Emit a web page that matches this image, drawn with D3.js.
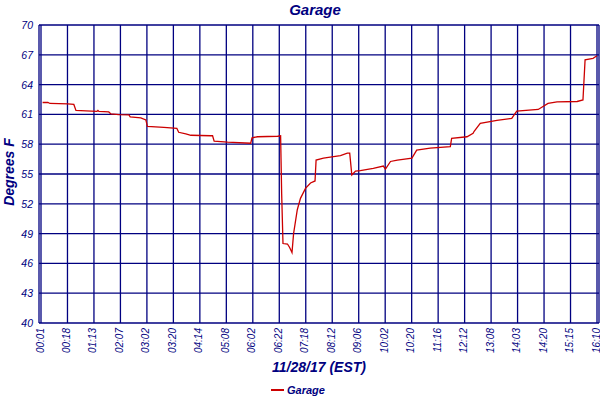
<!DOCTYPE html>
<html>
<head>
<meta charset="utf-8">
<script src="https://cdn.jsdelivr.net/npm/d3@7"></script>
<style>
  body { margin: 0; background: #fff; }
  svg { display: block; font-family: 'Liberation Sans', Arial, sans-serif; }
</style>
</head>
<body>
<div id="chart"></div>
<script>
// tick labels along the bottom (irregular time stamps, evenly spaced)
const timeLabels = ['00:01', '00:18', '01:13', '02:07', '03:02', '03:20', '04:14', '05:08',
  '06:02', '06:22', '07:18', '08:12', '09:06', '10:02', '10:20', '11:16', '12:12',
  '13:08', '14:03', '14:20', '15:15', '16:10'];
const tempTicks = [40, 43, 46, 49, 52, 55, 58, 61, 64, 67, 70];

// position in tick units (0 = first label) and temperature
const pos = [0.06, 0.26, 0.34, 1.01, 1.24, 1.32, 1.70, 2.11, 2.15, 2.19, 2.56, 2.64, 2.94,
  3.32, 3.37, 3.77, 3.96, 4.02, 4.64, 5.13, 5.20, 5.47, 5.66, 6.41, 6.48, 6.54, 7.05,
  7.92, 7.97, 8.18, 8.94, 9.05, 9.09, 9.14, 9.31, 9.39, 9.48, 9.54, 9.68, 9.80, 9.99,
  10.18, 10.35, 10.39, 10.67, 11.05, 11.31, 11.57, 11.66, 11.74, 11.88, 12.06, 12.55,
  12.93, 13.01, 13.20, 13.46, 14.01, 14.19, 14.70, 15.46, 15.51, 16.09, 16.32, 16.36,
  16.59, 17.22, 17.78, 17.97, 18.78, 19.15, 19.49, 20.25, 20.47, 20.55, 20.85, 21.0];
const garage = [62.2, 62.2, 62.1, 62.05, 62.0, 61.4, 61.35, 61.3, 61.4, 61.3, 61.25, 61.05,
  60.97, 60.95, 60.75, 60.65, 60.45, 59.8, 59.7, 59.6, 59.2, 59.05, 58.9, 58.85, 58.85,
  58.3, 58.2, 58.1, 58.65, 58.75, 58.8, 58.85, 53.0, 48.0, 47.95, 47.6, 47.1, 49.0, 51.4,
  52.55, 53.55, 54.1, 54.3, 56.4, 56.6, 56.75, 56.85, 57.1, 57.1, 54.9, 55.3, 55.35,
  55.57, 55.8, 55.5, 56.26, 56.4, 56.6, 57.4, 57.6, 57.75, 58.6, 58.75, 59.1, 59.3, 60.1,
  60.4, 60.6, 61.34, 61.5, 62.1, 62.27, 62.3, 62.45, 66.5, 66.65, 66.9];

const navy = '#000080';
const width = 600, height = 400;
const plot = { left: 41, right: 597, top: 25, bottom: 323 };

const svg = d3.select('#chart').append('svg')
  .attr('width', width).attr('height', height);

const x = d3.scaleLinear().domain([0, timeLabels.length - 1]).range([plot.left, plot.right]);
const y = d3.scaleLinear().domain([40, 70]).range([plot.bottom, plot.top]);

// grid
const grid = svg.append('g').attr('stroke', navy).attr('stroke-width', 1.3);
grid.selectAll('line.h').data(tempTicks).join('line')
  .attr('class', 'h')
  .attr('x1', plot.left - 2).attr('x2', plot.right + 2)
  .attr('y1', d => y(d)).attr('y2', d => y(d));
grid.selectAll('line.v').data(timeLabels).join('line')
  .attr('class', 'v')
  .attr('x1', (d, i) => x(i)).attr('x2', (d, i) => x(i))
  .attr('y1', plot.top).attr('y2', plot.bottom);
// frame edges
grid.append('line').attr('x1', plot.left - 2).attr('x2', plot.left - 2)
  .attr('y1', plot.top).attr('y2', plot.bottom);
grid.append('line').attr('x1', plot.right + 2).attr('x2', plot.right + 2)
  .attr('y1', plot.top).attr('y2', plot.bottom);

// y labels
svg.append('g').selectAll('text').data(tempTicks).join('text')
  .attr('x', 33).attr('y', d => y(d) + 4)
  .attr('text-anchor', 'end')
  .attr('font-size', 10.5).attr('font-style', 'italic')
  .attr('fill', navy)
  .text(d => d);

// x labels, rotated
svg.append('g').selectAll('text').data(timeLabels).join('text')
  .attr('transform', (d, i) => `translate(${x(i) + 2.5},328) rotate(-90)`)
  .attr('text-anchor', 'end')
  .attr('font-size', 10).attr('font-style', 'italic')
  .attr('fill', navy)
  .text(d => d);

// titles
svg.append('text')
  .attr('x', 315).attr('y', 15)
  .attr('text-anchor', 'middle')
  .attr('font-size', 15).attr('font-weight', 'bold').attr('font-style', 'italic')
  .attr('fill', navy).text('Garage');

svg.append('text')
  .attr('transform', `translate(14,172) rotate(-90)`)
  .attr('text-anchor', 'middle')
  .attr('font-size', 14).attr('font-weight', 'bold').attr('font-style', 'italic')
  .attr('fill', navy).text('Degrees F');

svg.append('text')
  .attr('x', 319).attr('y', 372)
  .attr('text-anchor', 'middle')
  .attr('font-size', 14).attr('font-weight', 'bold').attr('font-style', 'italic')
  .attr('fill', navy).text('11/28/17 (EST)');

// the series
const line = d3.line()
  .x((d, i) => x(pos[i]))
  .y(d => y(d));

svg.append('path')
  .datum(garage)
  .attr('fill', 'none')
  .attr('stroke', '#cc0000')
  .attr('stroke-width', 1.3)
  .attr('d', line);

// legend
const legend = svg.append('g').attr('transform', 'translate(271,390)');
legend.append('line').attr('x1', 0).attr('x2', 13).attr('y1', 0).attr('y2', 0)
  .attr('stroke', '#cc0000').attr('stroke-width', 2);
legend.append('text').attr('x', 16).attr('y', 4)
  .attr('font-size', 11).attr('font-weight', 'bold').attr('font-style', 'italic')
  .attr('fill', navy).text('Garage');
</script>
</body>
</html>
